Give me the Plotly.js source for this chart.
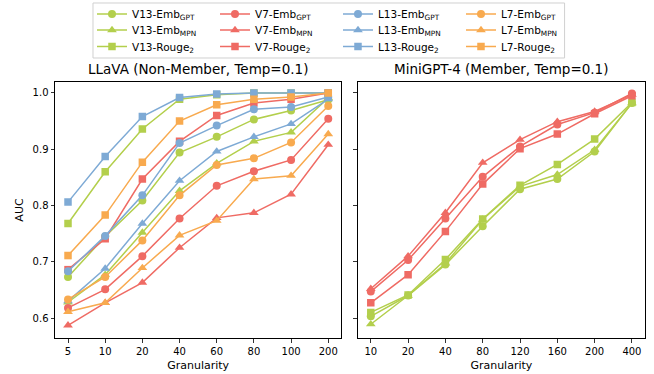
<!DOCTYPE html>
<html>
<head>
<meta charset="utf-8">
<script src="https://cdn.plot.ly/plotly-3.0.1.min.js"></script>
<style>html,body{margin:0;padding:0;background:#fff;}#chart{width:654px;height:374px;}</style>
</head>
<body>
<div id="chart"></div>
<script>
// Categories (tick labels)
const leftCats = ["5", "10", "20", "40", "60", "80", "100", "200"];
const rightCats = ["10", "20", "40", "80", "120", "160", "200", "400"];

// Left panel: LLaVA (Non-Member, Temp=0.1)
const leftV13EmbGPT = [0.673, 0.745, 0.809, 0.894, 0.922, 0.953, 0.969, 0.988];
const leftV13EmbMPN = [0.628, 0.677, 0.752, 0.826, 0.875, 0.914, 0.930, 0.991];
const leftV13Rouge2 = [0.768, 0.860, 0.936, 0.989, 0.997, 1.000, 1.000, 1.000];
const leftV7EmbGPT = [0.618, 0.651, 0.710, 0.777, 0.835, 0.861, 0.881, 0.954];
const leftV7EmbMPN = [0.587, 0.627, 0.663, 0.725, 0.778, 0.787, 0.820, 0.908];
const leftV7Rouge2 = [0.686, 0.741, 0.847, 0.914, 0.960, 0.982, 0.989, 1.000];
const leftL13EmbGPT = [0.683, 0.746, 0.818, 0.911, 0.942, 0.971, 0.975, 0.993];
const leftL13EmbMPN = [0.630, 0.688, 0.768, 0.844, 0.896, 0.922, 0.945, 0.989];
const leftL13Rouge2 = [0.806, 0.887, 0.958, 0.992, 0.998, 1.000, 1.000, 1.000];
const leftL7EmbGPT = [0.633, 0.673, 0.738, 0.818, 0.872, 0.884, 0.912, 0.977];
const leftL7EmbMPN = [0.611, 0.627, 0.689, 0.747, 0.773, 0.847, 0.853, 0.927];
const leftL7Rouge2 = [0.711, 0.783, 0.877, 0.950, 0.979, 0.989, 0.993, 1.000];

// Right panel: MiniGPT-4 (Member, Temp=0.1)
const rightV13EmbGPT = [0.603, 0.640, 0.695, 0.763, 0.829, 0.847, 0.896, 0.982];
const rightV13EmbMPN = [0.589, 0.640, 0.697, 0.775, 0.834, 0.855, 0.899, 0.982];
const rightV13Rouge2 = [0.610, 0.641, 0.704, 0.776, 0.836, 0.873, 0.918, 0.983];
const rightV7EmbGPT = [0.647, 0.703, 0.777, 0.851, 0.905, 0.944, 0.965, 0.999];
const rightV7EmbMPN = [0.652, 0.710, 0.787, 0.876, 0.917, 0.949, 0.967, 0.997];
const rightV7Rouge2 = [0.627, 0.677, 0.754, 0.838, 0.901, 0.927, 0.963, 0.995];

const models = ["V13", "V7", "L13", "L7"];
const metrics = ["Emb<sub>GPT</sub>", "Emb<sub>MPN</sub>", "Rouge<sub>2</sub>"];
const colors = {V13: "#b3cf4c", V7: "#ef6b64", L13: "#7eaad5", L7: "#f8aa4f"};
const symbols = ["circle", "triangle-up", "square"];
const sizes = [8, 8.5, 7.5];
const legendIds = ["legend", "legend2", "legend3"];

const leftData = {
  V13: [leftV13EmbGPT, leftV13EmbMPN, leftV13Rouge2],
  V7: [leftV7EmbGPT, leftV7EmbMPN, leftV7Rouge2],
  L13: [leftL13EmbGPT, leftL13EmbMPN, leftL13Rouge2],
  L7: [leftL7EmbGPT, leftL7EmbMPN, leftL7Rouge2]
};
const rightData = {
  V13: [rightV13EmbGPT, rightV13EmbMPN, rightV13Rouge2],
  V7: [rightV7EmbGPT, rightV7EmbMPN, rightV7Rouge2]
};

const traces = [];
models.forEach((m, mi) => {
  metrics.forEach((met, ki) => {
    traces.push({
      type: "scatter", mode: "lines+markers",
      x: leftCats, y: leftData[m][ki],
      xaxis: "x", yaxis: "y",
      name: m + "-" + met,
      legend: legendIds[ki],
      line: {color: colors[m], width: 1.5},
      marker: {color: colors[m], symbol: symbols[ki], size: sizes[ki], line: {width: 0}}
    });
  });
});
["V13", "V7"].forEach((m) => {
  metrics.forEach((met, ki) => {
    traces.push({
      type: "scatter", mode: "lines+markers",
      x: rightCats, y: rightData[m][ki],
      xaxis: "x2", yaxis: "y2",
      name: m + "-" + met,
      showlegend: false,
      line: {color: colors[m], width: 1.5},
      marker: {color: colors[m], symbol: symbols[ki], size: sizes[ki], line: {width: 0}}
    });
  });
});

const font = {family: "DejaVu Sans", color: "#000", size: 10};
const axBase = {
  showline: true, mirror: true, linecolor: "#000", linewidth: 1,
  ticks: "outside", ticklen: 3.5, tickwidth: 0.8, tickcolor: "#000",
  showgrid: false, zeroline: false, automargin: false,
  tickfont: {family: "DejaVu Sans", size: 10, color: "#000"}
};
const yRange = [0.5645, 1.0195];

function rowLegend(yPaper) {
  return {
    orientation: "h", x: 0.0627, xanchor: "left", y: yPaper, yanchor: "middle",
    borderwidth: 0, entrywidth: 78, bgcolor: "rgba(0,0,0,0)",
    font: {family: "DejaVu Sans", size: 10.5, color: "#000"}
  };
}

const layout = {
  width: 654, height: 374,
  margin: {l: 55, r: 8.5, t: 82, b: 36, autoexpand: false},
  paper_bgcolor: "#fff", plot_bgcolor: "#fff",
  font: font,
  showlegend: true,
  legend: rowLegend(1.2656),
  legend2: rowLegend(1.2031),
  legend3: rowLegend(1.1387),
  shapes: [
    {type: "rect", xref: "paper", yref: "paper", x0: 0.0644, x1: 0.8637, y0: 1.0938, y1: 1.3086,
     line: {color: "#d0d0d0", width: 1}, fillcolor: "#fff", layer: "below"}
  ],
  xaxis: Object.assign({}, axBase, {
    domain: [0, 0.4852], anchor: "y", type: "category",
    categoryorder: "array", categoryarray: leftCats, range: [-0.35, 7.35],
    title: {text: "Granularity", font: {family: "DejaVu Sans", size: 11, color: "#000"}, standoff: 5}
  }),
  yaxis: Object.assign({}, axBase, {
    anchor: "x", range: yRange, tick0: 0.6, dtick: 0.1, tickformat: ".1f",
    title: {text: "AUC", font: {family: "DejaVu Sans", size: 11, color: "#000"}, standoff: 6}
  }),
  xaxis2: Object.assign({}, axBase, {
    domain: [0.5131, 1], anchor: "y2", type: "category",
    categoryorder: "array", categoryarray: rightCats, range: [-0.35, 7.35],
    title: {text: "Granularity", font: {family: "DejaVu Sans", size: 11, color: "#000"}, standoff: 5}
  }),
  yaxis2: Object.assign({}, axBase, {
    anchor: "x2", range: yRange, tick0: 0.6, dtick: 0.1, showticklabels: false
  }),
  annotations: [
    {text: "LLaVA (Non-Member, Temp=0.1)", xref: "paper", yref: "paper", x: 0.2426, y: 1.05,
     xanchor: "center", yanchor: "middle", showarrow: false,
     font: {family: "DejaVu Sans", size: 13.5, color: "#000"}},
    {text: "MiniGPT-4 (Member, Temp=0.1)", xref: "paper", yref: "paper", x: 0.7566, y: 1.05,
     xanchor: "center", yanchor: "middle", showarrow: false,
     font: {family: "DejaVu Sans", size: 13.5, color: "#000"}}
  ]
};

Plotly.newPlot("chart", traces, layout, {displayModeBar: false, staticPlot: true});
</script>
</body>
</html>
